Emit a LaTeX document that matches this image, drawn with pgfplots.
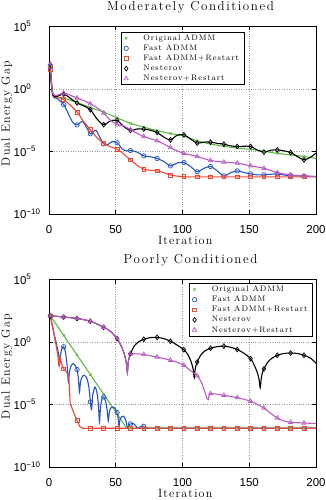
\documentclass[border=0pt]{standalone}
\usepackage{fontspec}
\usepackage{pgfplots}
\pgfplotsset{compat=1.18}
\usepackage{pgfplotstable}

\newfontfamily\tickfont{Liberation Sans}
% letter-spaced Latin Modern for titles, labels and legend
\newfontfamily\titfam{lmroman12-regular.otf}[LetterSpace=12]
\newfontfamily\labfam{lmroman12-regular.otf}[LetterSpace=10]
\newfontfamily\legfam{lmroman8-regular.otf}[LetterSpace=12]
\newcommand\titfont{\titfam\fontsize{13}{15}\selectfont}
\newcommand\labfont{\labfam\fontsize{12}{14}\selectfont}
\newcommand\legfont{\legfam\fontsize{8}{9.6}\selectfont}
\newcommand\pw[1]{10\raisebox{4.5pt}{\fontsize{8}{8}\selectfont#1}}

\definecolor{mgreen}{RGB}{96,186,66}
\definecolor{mblue}{RGB}{38,84,196}
\definecolor{mred}{RGB}{240,72,52}
\definecolor{mpurple}{RGB}{186,92,196}

% Dual energy gap per iteration, stored as log10 of the gap
% ---------- moderately conditioned ----------
\pgfplotstableread{
it lg
1 1.90
3 -0.45
11 -0.72
21 -1.08
31 -1.48
41 -1.85
51 -2.30
61 -2.75
71 -3.05
81 -3.33
91 -3.56
101 -3.78
111 -4.15
121 -4.40
131 -4.58
141 -4.72
151 -4.83
161 -4.98
171 -5.15
181 -5.27
191 -5.40
200 -5.56
}\modG
\pgfplotstableread{
it lg
1 1.80
3 -0.50
6 -0.75
11 -1.25
15 -2.10
18 -2.70
21 -2.87
25 -2.60
28 -3.05
31 -3.58
35 -3.30
38 -3.85
41 -4.39
44 -4.45
47 -4.22
51 -4.30
55 -4.80
58 -4.95
61 -4.92
66 -5.05
71 -5.35
76 -5.42
81 -5.56
86 -5.80
91 -6.15
96 -5.92
101 -5.88
106 -6.20
111 -6.62
116 -6.35
121 -6.20
126 -6.55
131 -6.95
136 -6.70
141 -6.55
146 -6.68
151 -6.79
156 -6.87
161 -6.87
166 -6.82
171 -6.80
176 -6.88
181 -6.93
191 -6.97
200 -7.00
}\modB
\pgfplotstableread{
it lg
1 1.55
3 -0.50
6 -0.62
11 -0.85
16 -1.30
21 -1.84
26 -2.60
31 -3.26
36 -3.90
41 -4.33
46 -4.62
51 -4.81
56 -5.20
61 -5.67
66 -6.10
71 -6.42
76 -6.50
81 -6.55
86 -6.70
91 -6.88
96 -6.97
101 -7.02
111 -7.03
121 -7.03
131 -7.03
141 -7.03
151 -7.03
161 -7.03
171 -7.03
181 -7.03
191 -7.03
200 -7.03
}\modR
\pgfplotstableread{
it lg
1 1.95
3 -0.50
11 -0.40
16 -0.75
21 -1.12
26 -1.35
31 -1.66
36 -2.40
41 -2.86
46 -2.55
51 -2.52
56 -3.00
61 -3.32
66 -3.20
71 -3.21
76 -3.30
81 -3.48
86 -3.85
91 -4.07
96 -3.70
101 -3.66
106 -4.00
111 -4.33
116 -4.25
121 -4.25
126 -4.35
131 -4.41
136 -4.55
141 -4.60
146 -4.58
151 -4.60
156 -4.88
161 -5.05
166 -4.90
171 -4.87
176 -4.95
181 -5.08
186 -5.40
191 -5.67
196 -5.45
200 -5.13
}\modK
\pgfplotstableread{
it lg
1 2.00
3 -0.40
11 -0.32
16 -0.50
21 -0.72
26 -0.92
31 -1.18
36 -1.50
41 -1.92
46 -2.50
51 -2.86
56 -2.95
61 -3.26
66 -3.55
71 -3.80
76 -3.98
81 -4.15
86 -4.40
91 -4.68
96 -4.95
101 -5.15
111 -5.40
121 -5.72
131 -5.85
141 -5.93
151 -6.15
161 -6.34
171 -6.69
181 -6.87
191 -6.95
200 -7.00
}\modP
% ---------- poorly conditioned ----------
\pgfplotstableread{
it lg
1 2.10
11 0.53
21 -1.04
31 -2.61
41 -4.18
51 -5.75
58 -6.85
61 -6.90
71 -6.90
81 -6.90
91 -6.90
101 -6.90
111 -6.90
121 -6.90
131 -6.90
141 -6.90
151 -6.90
161 -6.90
171 -6.90
181 -6.90
191 -6.90
200 -6.90
}\poorG
\pgfplotstableread{
it lg
1 2.10
4 0.60
6.5 -0.60
7.3 -1.10
8 -1.80
8.7 -1.00
9.6 -0.55
11 -0.38
12.3 -0.80
13.5 -1.80
14.5 -3.20
15.3 -2.40
16.6 -1.90
18.3 -1.73
20 -1.95
21 -2.20
22 -2.90
22.8 -4.00
23.6 -3.20
24.8 -2.80
26.5 -2.66
28.5 -2.95
30 -3.70
31 -4.80
31.9 -5.40
32.7 -4.30
34.4 -3.60
36 -4.10
37 -5.00
37.8 -6.40
38.6 -5.20
39.7 -4.55
41 -4.40
42.5 -4.80
43.6 -5.50
44.4 -6.30
45.2 -5.60
46.5 -5.25
48.2 -5.20
50 -5.40
51 -5.65
51.8 -6.10
52.4 -6.70
53.2 -6.20
54.3 -5.98
55.7 -5.94
57.3 -6.20
58.9 -6.85
60 -6.60
61 -6.55
63.2 -6.52
65 -6.70
66.5 -6.90
68.5 -6.78
70 -6.72
71 -6.74
72.5 -6.85
75 -6.90
81 -6.90
91 -6.90
101 -6.90
111 -6.90
121 -6.90
131 -6.90
141 -6.90
151 -6.90
161 -6.90
171 -6.90
181 -6.90
191 -6.90
200 -6.90
}\poorB
\pgfplotstableread{
it lg
1 2.10
3 1.00
5 -0.10
6.5 -1.00
7.5 -1.90
8.3 -1.20
9.3 -1.70
11 -2.15
12.5 -2.30
14 -2.60
15 -3.10
15.8 -4.80
16.6 -5.10
18 -5.50
19.5 -5.90
21 -6.26
23 -6.75
25 -6.90
31 -6.90
41 -6.90
51 -6.90
61 -6.90
71 -6.90
81 -6.90
91 -6.90
101 -6.90
111 -6.90
121 -6.90
131 -6.90
141 -6.90
151 -6.90
161 -6.90
171 -6.90
181 -6.90
191 -6.90
200 -6.90
}\poorR
\pgfplotstableread{
it lg
1 2.10
11 2.00
21 1.88
31 1.66
41 1.18
46 0.85
51 0.27
54 -0.30
56.5 -1.00
58 -1.70
58.7 -2.45
59.4 -1.60
60.3 -1.15
61 -0.93
64 -0.30
67 0.00
71 0.22
76 0.35
81 0.37
86 0.27
91 0.06
96 -0.25
101 -0.62
104 -1.00
106.5 -1.60
108 -2.20
108.8 -2.85
109.6 -2.10
111 -1.60
114 -1.00
117 -0.70
121 -0.50
126 -0.37
131 -0.33
136 -0.42
141 -0.60
146 -0.90
151 -1.33
154 -1.90
156.5 -2.60
157.5 -3.10
158.2 -3.65
159 -2.90
160 -2.40
161 -2.15
164 -1.60
167 -1.30
171 -1.06
176 -0.92
181 -0.88
186 -0.92
191 -1.06
196 -1.30
200 -1.70
}\poorK
\pgfplotstableread{
it lg
1 2.10
11 2.00
21 1.88
31 1.66
41 1.18
46 0.85
51 0.27
54 -0.30
56.5 -1.00
58 -1.70
58.7 -2.45
59.4 -1.60
60.3 -1.15
61 -0.95
66 -0.95
71 -1.00
76 -1.10
81 -1.20
86 -1.32
91 -1.46
96 -1.62
101 -1.86
106 -2.30
111 -2.70
114 -3.20
116.5 -3.90
118.5 -4.55
119.3 -4.60
120 -4.30
121 -4.13
126 -4.18
131 -4.26
136 -4.35
141 -4.45
146 -4.58
151 -4.74
156 -4.98
161 -5.28
166 -5.70
171 -6.08
176 -6.32
181 -6.42
191 -6.48
200 -6.52
}\poorP

% one method: a smooth line through every stored iterate, marks every 10 iterations
\newcommand\method[4]{%
  \addplot[#2, line width=1.1pt, smooth, forget plot]
    table[x=it, y=lg] {#1};
  \addplot[#2, only marks, line width=0.7pt, mark=#3, mark size=#4,
    x filter/.expression={mod(x-1,10)==0 ? x : nan}]
    table[x=it, y=lg] {#1};
}

% y is the base-10 exponent of the gap, labelled as powers of ten
\pgfplotsset{
  gapaxis/.style={
    scale only axis, width=267pt, height=187.5pt,
    xmin=0, xmax=200, ymin=-10, ymax=5,
    xtick={0,50,...,200}, ytick={-10,-5,0,5},
    yticklabels={\pw{−10},\pw{−5},\pw{0},\pw{5}},
    grid=major,
    major grid style={dotted, black!40, line width=0.6pt},
    axis line style={line width=0.8pt},
    tick style={line width=0.8pt, black}, major tick length=4pt,
    tick align=inside, tick pos=both,
    xticklabel style={font=\tickfont\fontsize{11.5}{12}\selectfont, yshift=-7.5pt},
    yticklabel style={font=\tickfont\fontsize{11.5}{12}\selectfont,
      anchor=west, xshift=-35.5pt, inner xsep=0pt},
    xlabel={Iteration}, ylabel={Dual Energy Gap},
    xlabel style={font=\labfont, at={(axis description cs:0.51,-0.1653)}, anchor=base},
    ylabel style={font=\labfont, at={(axis description cs:-0.1461,0.535)}, anchor=base},
    title style={font=\titfont, at={(axis description cs:0.53,1.0533)}, anchor=base},
    legend cell align=left,
    legend style={draw=black, line width=0.9pt, fill=white, font=\legfont,
      inner xsep=3pt, inner ysep=2pt, row sep=1.6pt,
      nodes={inner ysep=0.5pt, text height=5.8pt, text depth=1.7pt},
      /tikz/every odd column/.append style={column sep=13pt}},
  },
  /pgf/number format/assume math mode=true,
}

\begin{document}
\begin{tikzpicture}
\begin{axis}[gapaxis, at={(0pt,0pt)}, anchor=south west,
  title={Moderately Conditioned},
  legend style={at={(0.5,0.973)}, anchor=north}]
  \method{\modG}{mgreen}{x}{1.6pt}
  \method{\modB}{mblue}{o}{2.2pt}
  \method{\modR}{mred}{square}{1.9pt}
  \method{\modK}{black}{diamond}{2.4pt}
  \method{\modP}{mpurple}{triangle}{2.4pt}
  \legend{Original ADMM, Fast ADMM, Fast ADMM+Restart, Nesterov, Nesterov+Restart}
\end{axis}
\begin{axis}[gapaxis, at={(0pt,-253pt)}, anchor=south west,
  title={Poorly Conditioned},
  legend style={at={(0.988,0.982)}, anchor=north east}]
  \method{\poorG}{mgreen}{x}{1.6pt}
  \method{\poorB}{mblue}{o}{2.2pt}
  \method{\poorR}{mred}{square}{1.9pt}
  \method{\poorK}{black}{diamond}{2.4pt}
  \method{\poorP}{mpurple}{triangle}{2.4pt}
  \legend{Original ADMM, Fast ADMM, Fast ADMM+Restart, Nesterov, Nesterov+Restart}
\end{axis}
\pgfresetboundingbox
\path (-49pt,-286pt) rectangle (277pt,214pt);
\end{tikzpicture}
\end{document}
